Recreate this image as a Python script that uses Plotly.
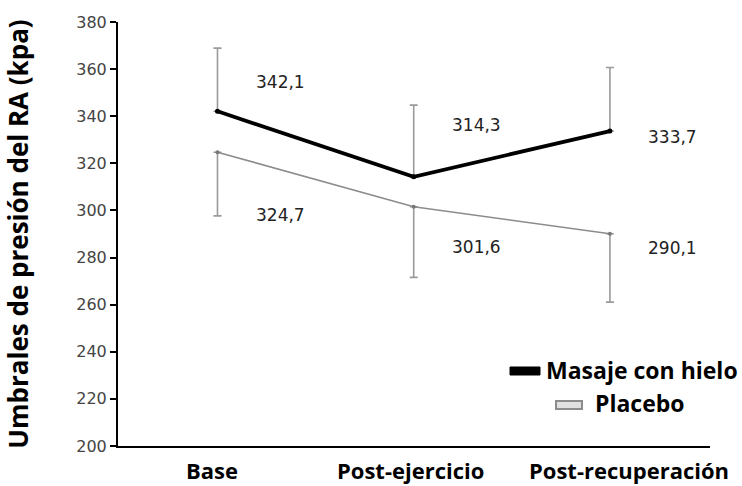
import plotly.graph_objects as go

# Pressure pain thresholds of the RA (kPa) at each measurement moment
momentos = ["Base", "Post-ejercicio", "Post-recuperación"]
masaje_hielo = [342.1, 314.3, 333.7]
masaje_error = [26.8, 30.4, 27.0]
placebo = [324.7, 301.6, 290.1]
placebo_error = [27.0, 30.0, 29.0]
y_ticks = [200, 220, 240, 260, 280, 300, 320, 340, 360, 380]

x_idx = list(range(len(momentos)))

def etiqueta(v):
    return f"{v:.1f}".replace(".", ",")

fig = go.Figure()

# Placebo: thin grey line, error bars pointing down
fig.add_trace(go.Scatter(
    x=x_idx, y=placebo, mode="lines+markers",
    line=dict(color="#8c8c8c", width=1.6),
    marker=dict(size=4, color="#777"),
    error_y=dict(type="data", symmetric=False, array=[0] * 3,
                 arrayminus=placebo_error, color="#9a9a9a",
                 thickness=1.6, width=4),
    showlegend=False,
))

# Ice massage: thick black line, error bars pointing up
fig.add_trace(go.Scatter(
    x=x_idx, y=masaje_hielo, mode="lines+markers",
    line=dict(color="#000000", width=3.8),
    marker=dict(size=5, color="#000"),
    error_y=dict(type="data", symmetric=False, array=masaje_error,
                 arrayminus=[0] * 3, color="#9a9a9a",
                 thickness=1.6, width=4),
    showlegend=False,
))

# Value labels beside each point (pixel shifts relative to the point)
shift_masaje = [29, 52, -6]
shift_placebo = [-63, -40, -14]
lab_font = dict(family="DejaVu Sans", size=17, color="#222")
for i, v in enumerate(masaje_hielo):
    fig.add_annotation(x=i, y=v, text=etiqueta(v), showarrow=False,
                       xshift=63, yshift=shift_masaje[i], font=lab_font)
for i, v in enumerate(placebo):
    fig.add_annotation(x=i, y=v, text=etiqueta(v), showarrow=False,
                       xshift=63, yshift=shift_placebo[i], font=lab_font)

# Category labels under the x axis
cat_font = dict(family="Open Sans", size=22, color="#000", weight="bold")
cat_shift = [-5, -3, 19]
for i, name in enumerate(momentos):
    fig.add_annotation(x=i, xref="x", y=0, yref="paper", text=name,
                       showarrow=False, xanchor="center", yanchor="middle",
                       xshift=cat_shift[i], yshift=-24, font=cat_font)

# Legend drawn in pixel-aligned paper coordinates
W, H = 742, 486
L, R, T, B = 118, 32, 22, 40
pw, ph = W - L - R, H - T - B

def px(x):
    return (x - L) / pw

def py(y):
    return (H - B - y) / ph

fig.add_shape(type="rect", xref="paper", yref="paper",
              x0=px(510), x1=px(540), y0=py(375), y1=py(367),
              fillcolor="#000", line=dict(color="#000", width=1))
fig.add_shape(type="rect", xref="paper", yref="paper",
              x0=px(556), x1=px(582), y0=py(409), y1=py(401),
              fillcolor="#e0e0e0", line=dict(color="#8c8c8c", width=2))
leg_font = dict(family="Open Sans", size=23, color="#000", weight="bold")
fig.add_annotation(xref="paper", yref="paper", x=px(544), y=py(370),
                   text="Masaje con hielo", showarrow=False,
                   xanchor="left", yanchor="middle", font=leg_font)
fig.add_annotation(xref="paper", yref="paper", x=px(593), y=py(403),
                   text="Placebo", showarrow=False,
                   xanchor="left", yanchor="middle", font=leg_font)

fig.update_layout(
    width=W, height=H,
    margin=dict(l=L, r=R, t=T, b=B, pad=0),
    paper_bgcolor="white", plot_bgcolor="white",
    xaxis=dict(
        range=[-0.507, 2.51], tickvals=x_idx, showticklabels=False,
        showgrid=False, zeroline=False, showline=True,
        linecolor="#000", linewidth=2, ticks="", automargin=False,
    ),
    yaxis=dict(
        range=[200, 380], tickvals=y_ticks,
        showgrid=False, zeroline=False, showline=True,
        linecolor="#000", linewidth=2, ticks="outside", ticklen=6,
        tickwidth=2, tickcolor="#000", automargin=False,
        tickfont=dict(family="DejaVu Sans", size=16, color="#444"),
        title=dict(text="Umbrales de presión del RA (kpa)",
                   font=dict(family="Open Sans", size=26, color="#000",
                             weight="bold"),
                   standoff=40),
    ),
)

fig.write_html("out.html")
